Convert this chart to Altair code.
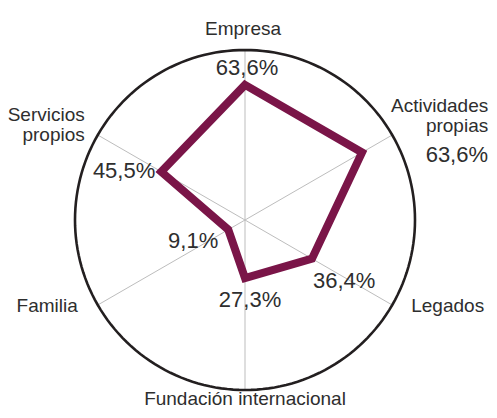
import altair as alt
import pandas as pd

categories = ["Empresa", "Actividades propias", "Legados",
              "Fundación internacional", "Familia", "Servicios propios"]
values = [63.6, 63.6, 36.4, 27.3, 9.1, 45.5]
value_labels = ["63,6%", "63,6%", "36,4%", "27,3%", "9,1%", "45,5%"]
scale_max = 80

df = pd.DataFrame({
    "idx": list(range(len(categories))),
    "category": categories,
    "value": values,
    "label": value_labels,
})

base = alt.Chart(df)
xs = alt.Scale(domain=[-scale_max, scale_max], nice=False, zero=False)
ys = alt.Scale(domain=[-scale_max, scale_max], nice=False, zero=False)

ang = "datum.idx * PI / 3"

pts = base.transform_calculate(
    px=f"datum.value * sin({ang})",
    py=f"datum.value * cos({ang})",
    ex=f"{scale_max} * sin({ang})",
    ey=f"{scale_max} * cos({ang})",
    zero="0",
)

spokes = pts.mark_rule(color="#bdbdbd", strokeWidth=1).encode(
    x=alt.X("zero:Q", scale=xs, axis=None),
    y=alt.Y("zero:Q", scale=ys, axis=None),
    x2="ex:Q", y2="ey:Q",
)

circle = alt.Chart(alt.sequence(0, 360, 2, as_="deg")).transform_calculate(
    cx=f"{scale_max} * sin(datum.deg * PI / 180)",
    cy=f"{scale_max} * cos(datum.deg * PI / 180)",
).mark_line(color="#231f20", strokeWidth=2.6, interpolate="linear-closed").encode(
    x=alt.X("cx:Q", scale=xs, axis=None),
    y=alt.Y("cy:Q", scale=ys, axis=None),
    order="deg:Q",
)

poly = pts.mark_line(color="#7a1548", strokeWidth=8, interpolate="linear-closed",
                     strokeJoin="miter").encode(
    x=alt.X("px:Q", scale=xs, axis=None),
    y=alt.Y("py:Q", scale=ys, axis=None),
    order="idx:Q",
)

cat_font = "Liberation Sans"
val_font = "Liberation Sans"
text_color = "#2e2e2e"

# (align, dx, dy) for category labels anchored at the spoke end
cat_style = [
    ("center", -2, -15),
    ("right", 96, -23),
    ("left", 19, 7),
    ("center", 0, 15),
    ("right", -20, 7),
    ("right", -13, -14),
]
# (align, dx, dy) for value labels anchored at the vertex
val_style = [
    ("center", 2, -10),
    ("right", 126, 10),
    ("left", 1, 29),
    ("center", 5, 29),
    ("right", -10, 18),
    ("right", -6, 6),
]

layers = [spokes, circle, poly]
for i, cat in enumerate(categories):
    a, dx, dy = cat_style[i]
    src = pts.transform_filter(f"datum.idx == {i}")
    if i in (1, 5):
        src = src.transform_calculate(txt="split(datum.category, ' ')")
        tfield = "txt"
    else:
        tfield = "category"
    layers.append(src.mark_text(align=a, dx=dx, dy=dy, baseline="alphabetic",
                                font=cat_font, fontSize=19, lineHeight=20,
                                color=text_color).encode(
        x=alt.X("ex:Q", scale=xs, axis=None),
        y=alt.Y("ey:Q", scale=ys, axis=None),
        text=f"{tfield}:N",
    ))
    a, dx, dy = val_style[i]
    layers.append(pts.transform_filter(f"datum.idx == {i}").mark_text(
        align=a, dx=dx, dy=dy, baseline="alphabetic",
        font=val_font, fontSize=22, color=text_color).encode(
        x=alt.X("px:Q", scale=xs, axis=None),
        y=alt.Y("py:Q", scale=ys, axis=None),
        text="label:N",
    ))

chart = alt.layer(*layers).properties(
    width=340, height=340,
    autosize=alt.AutoSizeParams(type="none"),
    padding={"left": 67, "top": 42, "right": 74, "bottom": 20},
    background="white",
).configure_view(stroke=None)

chart.save("out.html", embed_options={"renderer": "svg", "actions": False})
